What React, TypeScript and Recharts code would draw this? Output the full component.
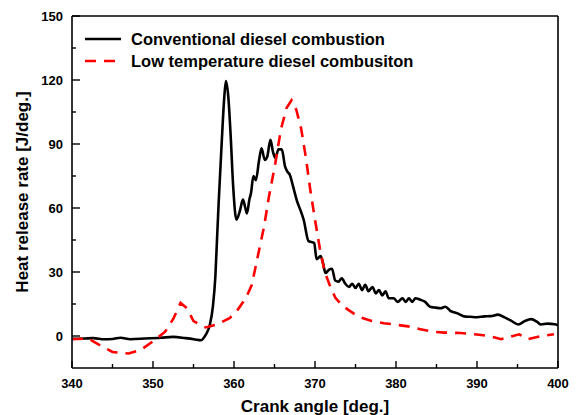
import React from 'react';
import { LineChart, Line, XAxis, YAxis, ReferenceLine } from 'recharts';

// conventional diesel combustion (black solid)
const convAngle = [
  340, 341.5, 342.6, 344, 345, 346, 347.2, 349, 351, 352.5, 354, 355.2, 355.9, 356.5, 357, 357.4, 357.7, 357.9,
  358.1, 358.5, 358.8, 359, 359.3, 359.6, 359.9, 360.3, 360.75, 361.1, 361.4, 361.6, 361.9, 362.1, 362.4, 362.7,
  363.1, 363.4, 363.8, 364.1, 364.5, 364.8, 365.1, 365.5, 365.9, 366.3, 366.6, 366.9, 367.3, 367.8, 368.2, 368.6,
  369.2, 369.6, 369.9, 370.2, 370.7, 371, 371.3, 371.7, 372.1, 372.5, 372.9, 373.3, 373.75, 374.2, 374.6, 375,
  375.4, 375.8, 376.2, 376.6, 377.1, 377.5, 377.9, 378.3, 378.7, 379.1, 379.7, 380.2, 380.8, 381.2, 381.6, 382,
  382.4, 383, 383.6, 384.2, 384.9, 385.5, 386.1, 386.7, 387.6, 388.4, 389.2, 390, 390.9, 391.7, 392.6, 393.4,
  394.2, 395.1, 395.9, 396.7, 397.4, 397.9, 398.7, 399.6, 400,
];
const convRate = [
  -1.3, -1.2, -1.0, -1.5, -1.4, -0.8, -1.5, -1.2, -0.8, -0.4, -1.0, -1.6, -2.0, 0.5, 5, 14, 28, 45,
  62, 92, 112, 119.5, 112, 93, 70, 54.5, 59, 64, 60, 57.5, 64, 67, 75, 73,
  82.5, 88, 82.5, 84, 92, 86.5, 83.5, 87.5, 87.5, 79.5, 77, 75.5, 70, 63, 59, 54.5,
  44.5, 44, 43.5, 36, 37.5, 34, 29.5, 31, 31.5, 26, 25.5, 27, 24.5, 23, 24.5, 22.5,
  24.5, 21.5, 24, 21, 23, 20, 21.5, 19, 21, 17.7, 17.7, 16, 17.7, 16, 17.7, 16,
  17.7, 17, 16, 13.7, 13.3, 13, 13.7, 11.8, 10.6, 9.2, 9, 8.8, 9.2, 9.3, 10, 8.7,
  7.2, 5.4, 7, 7.9, 6.7, 5.4, 5.8, 5.5, 5,
];

// low temperature diesel combustion (red dashed)
const ltcAngle = [
  340, 342, 343.5, 345, 347, 348.5, 350, 351.5, 352.5, 353.4, 354.2, 355, 356.5, 358, 359.5, 360.5, 361.5, 362.2,
  363, 363.7, 364.3, 365.1, 365.8, 366.5, 367.1, 367.7, 368.3, 368.9, 369.4, 370, 370.6, 371.2, 371.8, 372.5,
  373.3, 374.2, 375.4, 377, 378.5, 380, 381.5, 383, 384.5, 386, 388, 390, 391.5, 393, 395.2, 396.3, 398, 399.5,
];
const ltcRate = [
  -1.5, -1.2, -4.5, -7.5, -8.2, -6.5, -2.5, 2, 8, 15.5, 13, 7, 4, 5.5, 8.5, 12.5, 18, 24,
  38.5, 51, 65, 81, 97, 107, 110.5, 106, 97, 83, 69, 54.5, 41, 30, 24, 18,
  14.5, 12, 9, 7, 6, 5.3, 4.5, 3.2, 2, 1.6, 1.4, 0.7, 0, -1.5, 0.8, -1.5, 0, 0.8,
];

const xTicks = [340, 345, 350, 355, 360, 365, 370, 375, 380, 385, 390, 395, 400];
const yTicks = [0, 15, 30, 45, 60, 75, 90, 105, 120, 135, 150];

const convData = convAngle.map((a, i) => ({ angle: a, rate: convRate[i] }));
const ltcData = ltcAngle.map((a, i) => ({ angle: a, rate: ltcRate[i] }));

const FONT = 'Arial, "Liberation Sans", sans-serif';
const AXIS = { stroke: '#000', strokeWidth: 1.6 };

const series = [
  { name: 'Conventional diesel combustion', color: '#000000', dash: undefined as string | undefined },
  { name: 'Low temperature diesel combusiton', color: '#ff0000', dash: '11 8' },
];

const XTick = (props: any) => {
  const { x, y, payload } = props;
  const major = payload.value % 10 === 0;
  return (
    <g>
      <line x1={x} y1={y} x2={x} y2={y - (major ? 7 : 4)} stroke="#000" strokeWidth={1.4} />
      {major && (
        <text x={x} y={y + 20} textAnchor="middle" fontFamily={FONT} fontWeight="bold" fontSize={13} fill="#000">
          {payload.value}
        </text>
      )}
    </g>
  );
};

const YTick = (props: any) => {
  const { x, y, payload } = props;
  const major = payload.value % 30 === 0;
  return (
    <g>
      <line x1={x} y1={y} x2={x + (major ? 8 : 4)} y2={y} stroke="#000" strokeWidth={1.4} />
      {major && (
        <text x={x - 9} y={y + 4.5} textAnchor="end" fontFamily={FONT} fontWeight="bold" fontSize={13} fill="#000">
          {payload.value}
        </text>
      )}
    </g>
  );
};

const LegendBox = () => (
  <svg width={360} height={50} style={{ position: 'absolute', left: 84, top: 30 }}>
    {series.map((s, i) => (
      <g key={s.name}>
        <line x1={1} y1={9 + i * 22} x2={37} y2={9 + i * 22} stroke={s.color} strokeWidth={2.6} strokeDasharray={s.dash} />
        <text x={47} y={15 + i * 22} fontFamily={FONT} fontWeight="bold" fontSize={16.5} fill="#000">
          {s.name}
        </text>
      </g>
    ))}
  </svg>
);

export default function App() {
  return (
    <div style={{ position: 'absolute', left: 0, top: 0, width: 577, height: 415, background: '#fff' }}>
      <LineChart width={577} height={415} margin={{ top: 16, right: 19, bottom: 0, left: 0 }}>
        <XAxis
          dataKey="angle"
          type="number"
          domain={[340, 400]}
          ticks={xTicks}
          interval={0}
          allowDataOverflow
          height={47}
          tickSize={0}
          tickMargin={0}
          tickLine={false}
          axisLine={AXIS}
          tick={<XTick />}
          label={(p: any) => {
            const vb = p.viewBox;
            return (
              <text x={vb.x + vb.width / 2} y={vb.y + 44} textAnchor="middle" fontFamily={FONT} fontWeight="bold" fontSize={17} fill="#000">
                Crank angle [deg.]
              </text>
            );
          }}
        />
        <YAxis
          type="number"
          domain={[-15, 150]}
          ticks={yTicks}
          interval={0}
          allowDataOverflow
          width={72}
          tickSize={0}
          tickMargin={0}
          tickLine={false}
          axisLine={AXIS}
          tick={<YTick />}
          label={(p: any) => {
            const vb = p.viewBox;
            const cx = 28;
            const cy = vb.y + vb.height / 2;
            return (
              <text x={cx} y={cy} transform={`rotate(-90 ${cx} ${cy})`} textAnchor="middle" fontFamily={FONT} fontWeight="bold" fontSize={17} fill="#000">
                Heat release rate [J/deg.]
              </text>
            );
          }}
        />
        <ReferenceLine y={150} stroke="#000" strokeWidth={1.6} />
        <ReferenceLine x={400} stroke="#000" strokeWidth={1.6} />
        <Line
          data={convData}
          dataKey="rate"
          name={series[0].name}
          type="monotone"
          stroke={series[0].color}
          strokeWidth={2.6}
          dot={false}
          activeDot={false}
          isAnimationActive={false}
        />
        <Line
          data={ltcData}
          dataKey="rate"
          name={series[1].name}
          type="linear"
          stroke={series[1].color}
          strokeWidth={2.6}
          strokeDasharray={series[1].dash}
          dot={false}
          activeDot={false}
          isAnimationActive={false}
        />
      </LineChart>
      <LegendBox />
    </div>
  );
}
